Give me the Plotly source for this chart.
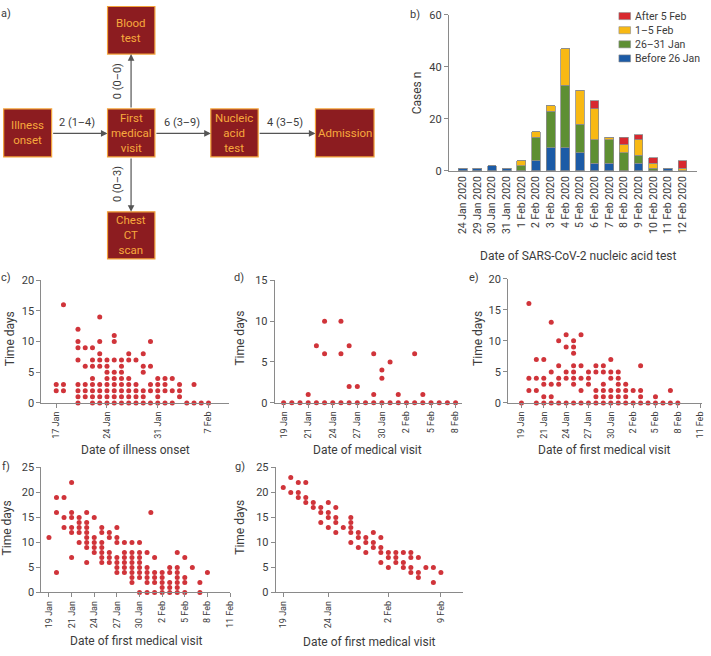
import plotly.graph_objects as go

W, H = 711, 656
FONT = "Roboto"
DOT = "#d0343a"
AXC = "#8a8a8a"
TXT = "#3c3c3c"

# ---- b) cases by date of nucleic acid test, stacked by onset period
test_dates = ["24 Jan 2020", "29 Jan 2020", "30 Jan 2020", "31 Jan 2020", "1 Feb 2020",
              "2 Feb 2020", "3 Feb 2020", "4 Feb 2020", "5 Feb 2020", "6 Feb 2020",
              "7 Feb 2020", "8 Feb 2020", "9 Feb 2020", "10 Feb 2020", "11 Feb 2020",
              "12 Feb 2020"]
before_26jan = [1, 1, 2, 1, 0, 4, 9, 9, 7, 3, 3, 0, 3, 0, 1, 0]
jan_26_31 = [0, 0, 0, 0, 2, 9, 14, 24, 11, 9, 9, 7, 3, 1, 0, 0]
feb_1_5 = [0, 0, 0, 0, 2, 2, 2, 14, 13, 12, 1, 3, 6, 2, 0, 1]
after_5feb = [0, 0, 0, 0, 0, 0, 0, 0, 0, 3, 0, 3, 2, 2, 0, 3]
series_names = ["Before 26 Jan", "26–31 Jan", "1–5 Feb", "After 5 Feb"]
series_colors = ["#1c5ba6", "#5e8f33", "#f8b914", "#d8282e"]

# ---- c) time from illness onset to first visit, by onset date
c_dates = ["2020-01-17", "2020-01-18", "2020-01-20", "2020-01-21", "2020-01-22",
           "2020-01-23", "2020-01-24", "2020-01-25", "2020-01-26", "2020-01-27",
           "2020-01-28", "2020-01-29", "2020-01-30", "2020-01-31", "2020-02-01",
           "2020-02-02", "2020-02-03", "2020-02-04", "2020-02-05", "2020-02-06",
           "2020-02-07"]
c_days = [[3, 2], [16, 3, 2], [12, 10, 9, 7, 3, 2, 1, 0], [9, 6, 3, 2, 1],
          [9, 7, 6, 4, 3, 2, 1, 0], [14, 10, 8, 7, 6, 3, 2, 1, 0],
          [7, 6, 5, 4, 3, 2, 1, 0], [11, 10, 7, 5, 4, 3, 2, 1, 0],
          [7, 6, 5, 4, 3, 2, 1, 0], [8, 7, 4, 3, 2, 1, 0], [7, 3, 2, 1, 0],
          [8, 6, 5, 2, 1, 0], [10, 6, 3, 2, 0], [4, 3, 2, 1, 0], [4, 3, 2, 0],
          [4, 2, 0], [3, 2, 1], [0], [3, 0], [0], [0]]

# common daily dates 18 Jan - 8 Feb for d-g
day_dates = ["2020-01-18", "2020-01-19", "2020-01-20", "2020-01-21", "2020-01-22",
             "2020-01-23", "2020-01-24", "2020-01-25", "2020-01-26", "2020-01-27",
             "2020-01-28", "2020-01-29", "2020-01-30", "2020-01-31", "2020-02-01",
             "2020-02-02", "2020-02-03", "2020-02-04", "2020-02-05", "2020-02-06",
             "2020-02-07", "2020-02-08"]

# ---- d) medical visit -> blood test
d_days = [[0], [0], [0], [1, 0], [7, 0], [10, 6, 0], [0], [10, 6, 0], [7, 2, 0],
          [2, 0], [0], [6, 1, 0], [4, 3, 0], [5, 0], [1, 0], [0], [6, 0], [1, 0],
          [0], [0], [0], [0]]

# ---- e) first medical visit -> chest CT
e_days = [[0], [16, 4, 2], [7, 4, 2, 0], [7, 4, 3, 1, 0], [13, 5, 3, 1, 0],
          [10, 6, 4, 3, 0], [11, 9, 5, 4, 0], [10, 9, 8, 6, 5, 4, 3, 0],
          [11, 6, 4, 2, 0], [5, 4, 3, 0], [6, 5, 2, 1, 0], [6, 5, 3, 2, 1, 0],
          [7, 5, 4, 2, 1, 0], [5, 4, 3, 2, 1, 0], [3, 2, 1, 0], [2, 0],
          [6, 2, 1, 0], [0], [1, 0], [0], [2, 0], [0]]

# ---- f) first medical visit -> nucleic acid test
f_days = [[11], [19, 16, 4], [19, 15, 13], [22, 16, 15, 13, 12, 7],
          [15, 14, 13, 12, 10], [16, 14, 13, 12, 11, 10, 9, 6],
          [15, 11, 10, 9, 8], [13, 12, 10, 9, 8, 7, 6], [12, 11, 8, 7, 6],
          [13, 11, 10, 7, 6, 5, 4], [10, 8, 7, 6, 5, 4],
          [10, 8, 7, 6, 5, 4, 3, 2], [10, 8, 7, 6, 5, 4, 3, 0],
          [8, 5, 4, 3, 2, 0], [7, 4, 3, 2, 0], [4, 3, 2, 1, 0], [5, 4, 2, 1, 0],
          [8, 5, 4, 3, 2, 1, 0], [7, 3, 2, 0], [5], [2, 0], [4]]
f_extra_date = ["2020-01-31 12:00"]
f_extra_days = [16]

# ---- g) first medical visit -> admission
g_days = [[21], [23, 20], [22, 20, 19], [22, 19, 18], [18, 17], [17, 16, 14],
          [18, 16, 15, 13], [17, 15, 14, 12], [13], [15, 14, 13, 12, 10],
          [12, 11, 9], [11, 10, 8], [12, 10, 9], [11, 9, 8, 6], [8, 7, 5],
          [8, 7, 6], [8, 6, 5], [8, 7, 5, 4], [7, 4, 3], [5], [5, 2], [4]]

# tick labels as printed in the figure
tick_dates_long = ["2020-01-18", "2020-01-21", "2020-01-24", "2020-01-27", "2020-01-30",
                   "2020-02-02", "2020-02-05", "2020-02-08", "2020-02-11"]
tick_text_long = ["19 Jan", "21 Jan", "24 Jan", "27 Jan", "30 Jan", "2 Feb", "5 Feb",
                  "8 Feb", "11 Feb"]
c_tick_dates = ["2020-01-17", "2020-01-24", "2020-01-31", "2020-02-07"]
c_tick_text = ["17 Jan", "24 Jan", "31 Jan", "7 Feb"]
g_tick_dates = ["2020-01-18", "2020-01-24", "2020-02-01", "2020-02-08"]
g_tick_text = ["19 Jan", "24 Jan", "2 Feb", "9 Feb"]


def px(x):
    return x / W


def py(y):
    return 1 - y / H


def flatten(dates, days):
    xs, ys = [], []
    for d, vals in zip(dates, days):
        for v in vals:
            xs.append(d)
            ys.append(v)
    return xs, ys


fig = go.Figure()

# stacked bars (panel b)
for name, vals, col in zip(series_names,
                           [before_26jan, jan_26_31, feb_1_5, after_5feb],
                           series_colors):
    fig.add_trace(go.Bar(x=test_dates, y=vals, name=name, showlegend=False,
                         marker=dict(color=col, line=dict(color="#8c8c8c", width=0.8)),
                         xaxis="x", yaxis="y"))

# scatter panels
scatters = [
    ("2", flatten(c_dates, c_days)),
    ("3", flatten(day_dates, d_days)),
    ("4", flatten(day_dates, e_days)),
    ("5", flatten(day_dates + f_extra_date, f_days + [f_extra_days])),
    ("6", flatten(day_dates, g_days)),
]
for ax, (xs, ys) in scatters:
    fig.add_trace(go.Scatter(x=xs, y=ys, mode="markers", showlegend=False,
                             marker=dict(size=5, color=DOT),
                             cliponaxis=False, xaxis="x" + ax, yaxis="y" + ax))


def xdate(x0, x1, rng, tv, tt, anchor):
    return dict(domain=[px(x0), px(x1)], range=rng, type="date", anchor=anchor,
                tickvals=tv, ticktext=tt, tickangle=-90, ticks="outside", ticklen=4,
                tickcolor=AXC, showline=True, linecolor=AXC, showgrid=False,
                zeroline=False, tickfont=dict(size=9, color=TXT), fixedrange=True)


def yval(y0, y1, top, anchor):
    return dict(domain=[py(y1), py(y0)], range=[0, top], anchor=anchor,
                tickvals=list(range(0, top + 1, 5)), ticks="outside", ticklen=4,
                tickcolor=AXC, showline=True, linecolor=AXC, showgrid=False,
                zeroline=False, tickfont=dict(size=11, color=TXT), fixedrange=True)


layout_axes = dict(
    xaxis=dict(domain=[px(452), px(702)], type="category", range=[-0.95, 16.0],
               tickangle=-90, showline=True, linecolor=AXC, ticks="",
               showgrid=False, tickfont=dict(size=10.5, color=TXT), anchor="y",
               fixedrange=True),
    yaxis=dict(domain=[py(168.3), py(9)], range=[0, 60], tickvals=[0, 20, 40, 60],
               ticks="outside", ticklen=4, tickcolor=AXC, showline=True, linecolor=AXC,
               showgrid=False, zeroline=False, tickfont=dict(size=11, color=TXT),
               anchor="x", fixedrange=True),
    xaxis2=xdate(41.7, 231, ["2020-01-14 23:00", "2020-02-09 21:00"],
                 c_tick_dates, c_tick_text, "y2"),
    yaxis2=yval(279.7, 405, 20, "x2"),
    xaxis3=xdate(276.7, 465, ["2020-01-16 22:00", "2020-02-08 18:00"],
                 tick_dates_long[:-1], tick_text_long[:-1], "y3"),
    yaxis3=yval(280, 404.7, 15, "x3"),
    xaxis4=xdate(511.7, 706.7, ["2020-01-16 05:00", "2020-02-11 05:00"],
                 tick_dates_long, tick_text_long, "y4"),
    yaxis4=yval(278.3, 405, 20, "x4"),
    xaxis5=xdate(41.7, 231.7, ["2020-01-17", "2020-02-11"],
                 tick_dates_long, tick_text_long, "y5"),
    yaxis5=yval(470.7, 598.3, 25, "x5"),
    xaxis6=xdate(277.7, 466.7, ["2020-01-17", "2020-02-11"],
                 g_tick_dates, g_tick_text, "y6"),
    yaxis6=yval(470.7, 598.3, 25, "x6"),
    xaxis7=dict(domain=[0, px(400)], range=[0, 400], visible=False, anchor="y7",
                fixedrange=True),
    yaxis7=dict(domain=[py(262), 1], range=[262, 0], visible=False, anchor="x7",
                fixedrange=True),
)

shapes = []
annotations = []

# legend for panel b, drawn top-down: After 5 Feb first
for i, k in enumerate([3, 2, 1, 0]):
    yc = 10.3 + 14.4 * i
    shapes.append(dict(type="rect", xref="paper", yref="paper",
                       x0=px(623.3), x1=px(635), y0=py(yc + 3.6), y1=py(yc - 3.6),
                       fillcolor=series_colors[k], line=dict(color="#8c8c8c", width=0.6)))
    annotations.append(dict(xref="paper", yref="paper", x=px(637.5), y=py(yc),
                            text=series_names[k], showarrow=False, xanchor="left",
                            yanchor="middle",
                            font=dict(family=FONT, size=10.5, color=TXT)))

# ---- a) flowchart
boxes = [("Illness<br>onset", 3.7, 105, 52, 154),
         ("First<br>medical<br>visit", 108.3, 105, 156, 154),
         ("Nucleic<br>acid<br>test", 212.3, 105, 260, 154),
         ("Admission", 317.7, 105, 376.7, 154),
         ("Blood<br>test", 108.3, 0.5, 156, 49),
         ("Chest<br>CT<br>scan", 108.3, 210, 156, 258)]
for label, x0, y0, x1, y1 in boxes:
    shapes.append(dict(type="rect", xref="x7", yref="y7", x0=x0, y0=y0, x1=x1, y1=y1,
                       fillcolor="#8c1c20", line=dict(color="#f2a23a", width=1.2)))
    annotations.append(dict(xref="x7", yref="y7", x=(x0 + x1) / 2, y=(y0 + y1) / 2,
                            text=label, showarrow=False,
                            font=dict(family=FONT, size=11.5, color="#f7a93d")))

arrows = [((52, 130), (108.3, 130), "2 (1–4)", (78, 119), 0),
          ((156, 130), (212.3, 130), "6 (3–9)", (183, 119), 0),
          ((260, 130), (317.7, 130), "4 (3–5)", (287, 119), 0),
          ((132, 105), (132, 49), "0 (0–0)", (118.5, 77), -90),
          ((132, 154), (132, 210), "0 (0–3)", (118.5, 182), -90)]
for (tx, ty), (hx, hy), lab, (lx, ly), ang in arrows:
    annotations.append(dict(xref="x7", yref="y7", axref="x7", ayref="y7",
                            x=hx, y=hy, ax=tx, ay=ty, text="", showarrow=True,
                            arrowhead=2, arrowsize=1.1, arrowwidth=1.2,
                            arrowcolor="#555555"))
    annotations.append(dict(xref="x7", yref="y7", x=lx, y=ly, text=lab,
                            showarrow=False, textangle=ang,
                            font=dict(family=FONT, size=11, color=TXT)))

# panel letters and axis titles (placed in pixels)
texts = [("a)", 6, 8, 0), ("b)", 418, 9, 0), ("c)", 6, 277, 0), ("d)", 241, 277, 0),
         ("e)", 477, 277, 0), ("f)", 6, 470, 0), ("g)", 242, 470, 0),
         ("Date of SARS-CoV-2 nucleic acid test", 581.7, 255, 0),
         ("Cases n", 420, 89, -90),
         ("Date of illness onset", 136, 453, 0), ("Time days", 10, 339, -90),
         ("Date of medical visit", 370, 453, 0), ("Time days", 242, 339, -90),
         ("Date of first medical visit", 609, 453, 0), ("Time days", 482, 339, -90),
         ("Date of first medical visit", 137.7, 648, 0), ("Time days", 8, 532, -90),
         ("Date of first medical visit", 372.3, 649, 0), ("Time days", 242, 532, -90)]
for t, x, y, ang in texts:
    annotations.append(dict(xref="paper", yref="paper", x=px(x), y=py(y), text=t,
                            showarrow=False, textangle=ang, xanchor="center",
                            yanchor="middle",
                            font=dict(family=FONT, size=12 if len(t) > 2 else 11,
                                      color=TXT)))

fig.update_layout(
    width=W, height=H, margin=dict(l=0, r=0, t=0, b=0),
    paper_bgcolor="white", plot_bgcolor="white",
    font=dict(family=FONT, color=TXT),
    barmode="stack", bargap=0.4, showlegend=False,
    shapes=shapes, annotations=annotations,
    **layout_axes,
)

# the page body has a default 8px margin; drop it so the figure fills the window
fig.write_html("out.html", config={"displayModeBar": False},
               post_script="document.body.style.margin='0';")
